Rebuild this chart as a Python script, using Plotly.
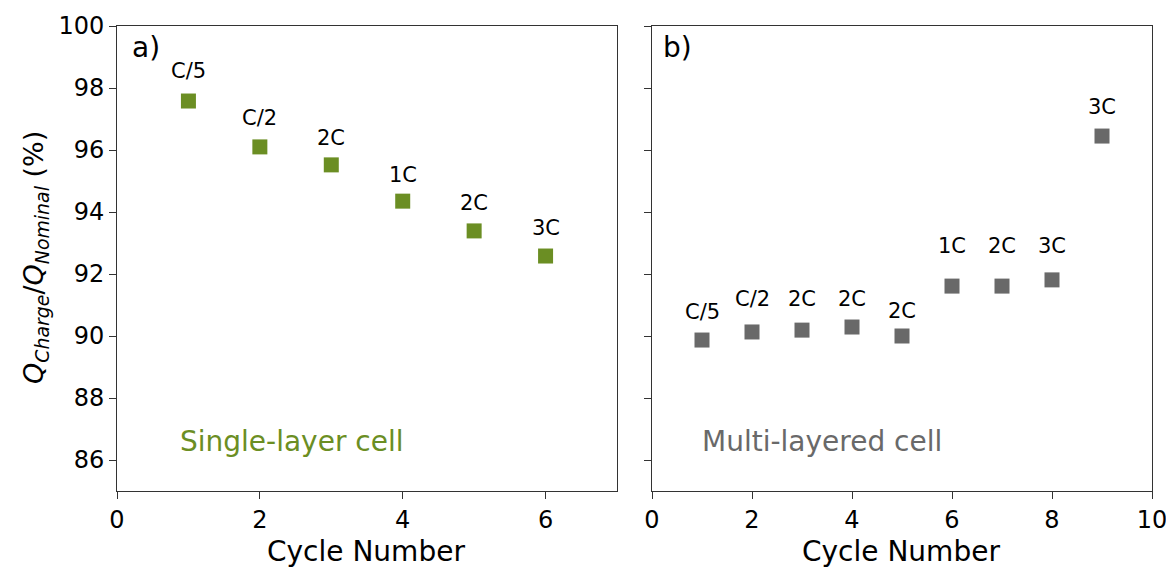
import plotly.graph_objects as go

# Data
single_cycles = [1, 2, 3, 4, 5, 6]
single_values = [97.58, 96.10, 95.52, 94.35, 93.39, 92.58]
single_rates = ["C/5", "C/2", "2C", "1C", "2C", "3C"]

multi_cycles = [1, 2, 3, 4, 5, 6, 7, 8, 9]
multi_values = [89.87, 90.13, 90.19, 90.29, 90.00, 91.61, 91.61, 91.81, 96.45]
multi_rates = ["C/5", "C/2", "2C", "2C", "2C", "1C", "2C", "3C", "3C"]

# label heights (data units) for the rate annotations
single_label_y = [98.56, 97.02, 96.39, 95.19, 94.29, 93.49]
multi_label_y = [90.79, 91.19, 91.19, 91.19, 90.82, 92.89, 92.89, 92.89, 97.39]

y_ticks = [86, 88, 90, 92, 94, 96, 98, 100]

GREEN = "#6b8e23"
GRAY = "#696969"
FONT = "DejaVu Sans"
W, H = 1166, 567

fig = go.Figure()
fig.add_trace(go.Scatter(x=single_cycles, y=single_values, mode="markers",
                         marker=dict(symbol="square", size=15, color=GREEN),
                         xaxis="x", yaxis="y", showlegend=False))
fig.add_trace(go.Scatter(x=multi_cycles, y=multi_values, mode="markers",
                         marker=dict(symbol="square", size=15, color=GRAY),
                         xaxis="x2", yaxis="y2", showlegend=False))

ann = []
for x, y, t in zip(single_cycles, single_label_y, single_rates):
    ann.append(dict(x=x, y=y, xref="x", yref="y", text=t, showarrow=False,
                    xanchor="center", yanchor="middle",
                    font=dict(size=21, color="black", family=FONT)))
for x, y, t in zip(multi_cycles, multi_label_y, multi_rates):
    ann.append(dict(x=x, y=y, xref="x2", yref="y2", text=t, showarrow=False,
                    xanchor="center", yanchor="middle",
                    font=dict(size=21, color="black", family=FONT)))

ann += [
    dict(x=0.18, y=99.3, xref="x", yref="y", text="a)", showarrow=False,
         xanchor="left", yanchor="middle",
         font=dict(size=28, color="black", family=FONT)),
    dict(x=0.18, y=99.3, xref="x2", yref="y2", text="b)", showarrow=False,
         xanchor="left", yanchor="middle",
         font=dict(size=28, color="black", family=FONT)),
    dict(x=0.85, y=86.6, xref="x", yref="y", text="Single-layer cell", showarrow=False,
         xanchor="left", yanchor="middle",
         font=dict(size=28, color=GREEN, family=FONT)),
    dict(x=0.95, y=86.6, xref="x2", yref="y2", text="Multi-layered cell", showarrow=False,
         xanchor="left", yanchor="middle",
         font=dict(size=28, color=GRAY, family=FONT)),
    dict(x=35 / W, y=1 - 258 / H, xref="paper", yref="paper", textangle=-90, showarrow=False,
         xanchor="center", yanchor="middle",
         text="<i>Q<sub>Charge</sub></i>/<i>Q<sub>Nominal</sub></i> (%)",
         font=dict(size=27, color="black", family=FONT)),
    dict(x=366 / W, y=1 - 551 / H, xref="paper", yref="paper", showarrow=False,
         xanchor="center", yanchor="middle",
         text="Cycle Number", font=dict(size=28, color="black", family=FONT)),
    dict(x=901 / W, y=1 - 551 / H, xref="paper", yref="paper", showarrow=False,
         xanchor="center", yanchor="middle",
         text="Cycle Number", font=dict(size=28, color="black", family=FONT)),
]

axis_common = dict(showline=True, linecolor="#333333", linewidth=1, mirror=True,
                   ticks="outside", ticklen=7, tickwidth=1, tickcolor="#333333",
                   showgrid=False, zeroline=False, automargin=False,
                   ticklabeloverflow="allow",
                   tickfont=dict(size=24, color="black", family=FONT))

fig.update_layout(
    width=W, height=H,
    margin=dict(l=0, r=0, t=0, b=0),
    paper_bgcolor="white", plot_bgcolor="white",
    font=dict(family=FONT),
    xaxis=dict(domain=[117 / W, 617 / W], range=[0, 7], tickvals=[0, 2, 4, 6],
               anchor="y", **axis_common),
    yaxis=dict(domain=[1 - 491 / H, 1 - 26 / H], range=[85, 100], tickvals=y_ticks,
               anchor="x", **axis_common),
    xaxis2=dict(domain=[652 / W, 1152 / W], range=[0, 10], tickvals=[0, 2, 4, 6, 8, 10],
                anchor="y2", **axis_common),
    yaxis2=dict(domain=[1 - 491 / H, 1 - 26 / H], range=[85, 100], tickvals=y_ticks,
                showticklabels=False, anchor="x2", **axis_common),
    annotations=ann,
)

fig.write_html("out.html")
